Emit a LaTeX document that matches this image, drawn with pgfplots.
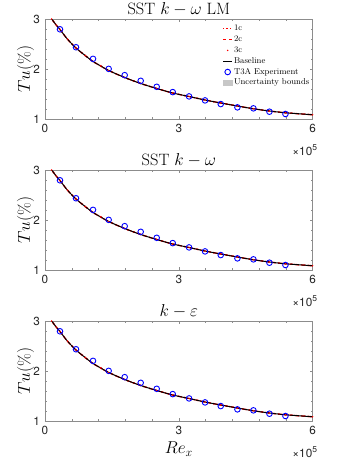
\documentclass[border=0pt]{standalone}
\usepackage{fontspec}
\usepackage{pgfplots}
\pgfplotsset{compat=1.18}
\usepackage{pgfplotstable}
\newfontfamily\hel{TeX Gyre Heros}

% model curve (x in units of 1e5)
\pgfplotstableread{
x y
0.10 3.07
0.15 3.00
0.25 2.88
0.336 2.79
0.50 2.60
0.695 2.42
0.90 2.27
1.076 2.15
1.25 2.06
1.427 1.97
1.786 1.83
2.145 1.71
2.504 1.61
2.863 1.52
3.229 1.45
3.587 1.38
3.939 1.32
4.313 1.26
4.671 1.205
5.03 1.16
5.389 1.125
6.00 1.085
}\curvedata

% T3A experiment
\pgfplotstableread{
x y
0.336 2.794
0.695 2.435
1.076 2.203
1.427 2.003
1.786 1.877
2.145 1.764
2.504 1.644
2.863 1.538
3.229 1.452
3.587 1.372
3.939 1.299
4.313 1.233
4.671 1.213
5.03 1.146
5.389 1.100
}\expdata

\pgfplotsset{
  tuaxis/.style={
    scale only axis, width=267.7bp, height=100bp,
    xmin=0, xmax=6, ymin=1, ymax=3,
    xtick={0,3,6}, ytick={1,2,3},
    minor x tick num=4, minor y tick num=4,
    tick align=inside, tick pos=both,
    major tick length=3bp, minor tick length=2bp,
    axis line style={black!45, line width=0.5bp},
    every tick/.style={black!45, line width=0.4bp},
    tick label style={font=\hel\fontsize{11.8}{14}\selectfont, text=black!85},
    xticklabel style={yshift=-1.5bp},
    yticklabel style={xshift=-1.5bp},
    /pgf/number format/assume math mode=true,
    ylabel={$Tu(\%)$},
    ylabel style={at={(axis description cs:-0.04,0.5)}, anchor=south, inner sep=0pt,
      font=\fontsize{16.5}{19}\selectfont},
    title style={at={(0.5,1)}, anchor=south, yshift=-3.5bp, inner sep=0pt,
      font=\fontsize{16.5}{19}\selectfont},
    after end axis/.code={%
      \node[anchor=base east, inner sep=0pt, font=\hel\fontsize{11.8}{14}\selectfont, text=black!85]
        at ([xshift=4.5bp, yshift=-36.5bp]rel axis cs:1,0) {×10\raisebox{0.45em}{\fontsize{8.5}{10}\selectfont 5}};
    },
  },
  lineleg/.style={legend image code/.code={\draw[##1] (0bp,0bp) -- (9bp,0bp);}},
  markleg/.style={legend image code/.code={\draw[##1] plot coordinates {(4.5bp,0bp)};}},
}

\newcommand{\tucurves}{%
  \addplot[red, line width=1.3bp, dotted, smooth, lineleg] table {\curvedata};
  \addplot[red, line width=1.3bp, dashed, smooth, lineleg] table {\curvedata};
  \addplot[red, only marks, mark=*, mark size=0.5bp, markleg] table {\curvedata};
  \addplot[black, line width=1bp, smooth, lineleg] table {\curvedata};
  \addplot[blue, only marks, mark=o, mark size=2.8bp, line width=0.9bp, markleg] table {\expdata};
}

\begin{document}
\begin{tikzpicture}
\path[use as bounding box] (0,0) rectangle (346bp,-461bp);

\begin{axis}[tuaxis, at={(45bp,-119bp)}, anchor=south west,
  title={SST $k-\omega$ LM},
  legend cell align=left,
  legend style={at={(1,1)}, anchor=north east, xshift=-2bp, yshift=-4.5bp,
    draw=none, fill=none, inner sep=0pt, row sep=0.6bp,
    font=\fontsize{8.5}{10}\selectfont,
    nodes={inner sep=1.2bp, text height=6bp, text depth=1.8bp}},
]
\tucurves
\addlegendimage{legend image code/.code={\fill[black!22] (0bp,-2.8bp) rectangle (9bp,2.8bp);}}
\legend{1c,2c,3c,Baseline,T3A Experiment,Uncertainty bounds}
\end{axis}

\begin{axis}[tuaxis, at={(45bp,-270bp)}, anchor=south west,
  title={SST $k-\omega$},
]
\tucurves
\end{axis}

\begin{axis}[tuaxis, at={(45bp,-421bp)}, anchor=south west,
  title={$k-\varepsilon$},
  xlabel={$Re_x$},
  xlabel style={at={(axis description cs:0.5,0)}, anchor=north, yshift=-21bp, inner sep=0pt,
    font=\fontsize{16.5}{19}\selectfont},
]
\tucurves
\end{axis}
\end{tikzpicture}
\end{document}
